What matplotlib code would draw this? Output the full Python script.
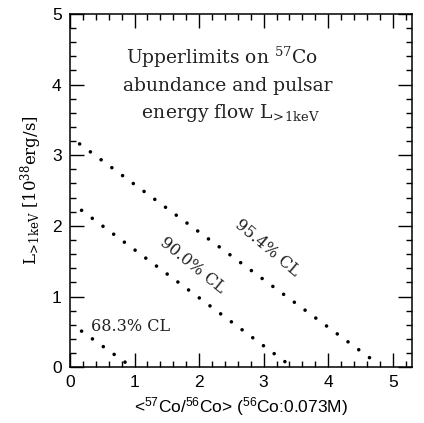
import matplotlib.pyplot as plt
from matplotlib.ticker import MultipleLocator

# upper-limit lines (end points)
cl_labels = ["68.3% CL", "90.0% CL", "95.4% CL"]
line_x = [[0.18, 0.87], [0.18, 3.40], [0.15, 4.78]]
line_y = [[0.51, 0.06], [2.22, 0.03], [3.16, 0.04]]

# label positions / angles
label_x = [0.33, 1.90, 3.06]
label_y = [0.57, 1.44, 1.69]
label_rot = [0, -39, -40]

plt.rcParams["mathtext.default"] = "regular"
plt.rcParams["font.family"] = "DejaVu Serif"

fig = plt.figure(figsize=(4.24, 4.23), dpi=100)
ax = fig.add_axes([0.165, 0.132, 0.807, 0.835])

lw = 2.6
for xs, ys in zip(line_x, line_y):
    ax.plot(xs, ys, color="black", linewidth=lw, linestyle=(0, (0.001, 9.6 / lw)),
            dash_capstyle="round", solid_capstyle="round")

for i in range(3):
    ha = "left" if label_rot[i] == 0 else "center"
    ax.text(label_x[i], label_y[i], cl_labels[i], fontsize=11.5, rotation=label_rot[i],
            ha=ha, va="center", color="#222222")

ax.text(2.35, 4.0, "Upperlimits on $^{57}$Co\n  abundance and pulsar\n   energy flow L$_{\\!>\\!1keV}$",
        fontsize=13.5, ha="center", va="center", linespacing=1.45, color="#222222")

ax.set_xlim(0, 5.3)
ax.set_ylim(0, 5)
ax.xaxis.set_major_locator(MultipleLocator(1))
ax.xaxis.set_minor_locator(MultipleLocator(0.2))
ax.yaxis.set_major_locator(MultipleLocator(1))
ax.yaxis.set_minor_locator(MultipleLocator(0.2))
ax.tick_params(which="both", direction="in", top=True, right=True, width=1.0)
ax.tick_params(which="major", length=10, labelsize=12.5, pad=6)
ax.tick_params(which="minor", length=4.5)
for lab in ax.get_xticklabels() + ax.get_yticklabels():
    lab.set_family("Liberation Sans")
for s in ax.spines.values():
    s.set_linewidth(1.1)

ax.set_xlabel("<$^{57}$Co/$^{56}$Co> ($^{56}$Co:0.073M)", fontsize=12.5, family="Liberation Sans", labelpad=3)
ax.set_ylabel("L$_{\\!>\\!1keV}$ [10$^{38}$erg/s]", fontsize=12, labelpad=6)

fig.savefig("out.png", dpi=100)
